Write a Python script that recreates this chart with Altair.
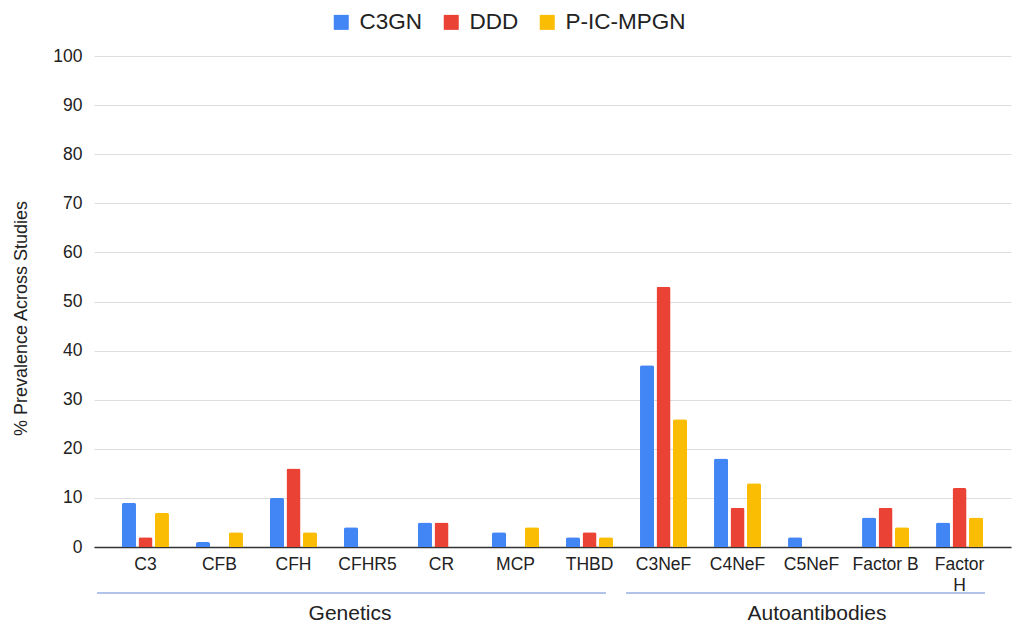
import altair as alt
import pandas as pd

categories = ["C3", "CFB", "CFH", "CFHR5", "CR", "MCP", "THBD",
              "C3NeF", "C4NeF", "C5NeF", "Factor B", "Factor H"]
series = ["C3GN", "DDD", "P-IC-MPGN"]
c3gn = [9, 1, 10, 4, 5, 3, 2, 37, 18, 2, 6, 5]
ddd = [2, 0, 16, 0, 5, 0, 3, 53, 8, 0, 8, 12]
picmpgn = [7, 3, 3, 0, 0, 4, 2, 26, 13, 0, 4, 6]
colors = ["#4285F4", "#EA4335", "#FBBC04"]
y_ticks = list(range(0, 101, 10))

# category groups (in category-index units)
group_names = ["Genetics", "Autoantibodies"]
group_start = [-0.655, 6.493]
group_end = [6.223, 11.345]
group_center = [2.764, 9.074]
index_domain = [-0.696, 11.696]

rows = []
for s, vals in zip(series, [c3gn, ddd, picmpgn]):
    for c, v in zip(categories, vals):
        rows.append({"category": c, "series": s, "value": v})
df = pd.DataFrame(rows)
groups = pd.DataFrame({"name": group_names, "start": group_start,
                       "end": group_end, "center": group_center})

FONT = "Liberation Sans"

bars = alt.Chart(df).mark_bar(cornerRadiusTopLeft=2, cornerRadiusTopRight=2).encode(
    x=alt.X("category:N", sort=categories,
            scale=alt.Scale(paddingInner=0.365, paddingOuter=0.378),
            axis=alt.Axis(title=None, labelAngle=0, ticks=False, grid=False,
                          domainColor="#333333", domainWidth=1.5,
                          labelFontSize=17.5, labelColor="#222222", labelPadding=8,
                          labelOverlap=False, labelLineHeight=21,
                          labelExpr="datum.value == 'Factor H' ? ['Factor', 'H'] : datum.value")),
    xOffset=alt.XOffset("series:N", sort=series, scale=alt.Scale(paddingInner=0.15)),
    y=alt.Y("value:Q", scale=alt.Scale(domain=[0, 100], nice=False),
            axis=alt.Axis(values=y_ticks, title="% Prevalence Across Studies",
                          titleFontSize=18, titleFontWeight="normal", titleColor="#222222",
                          titlePadding=22, titleY=262, labelFontSize=17.5, labelColor="#222222",
                          labelPadding=12, domain=False, ticks=False,
                          gridColor="#dddddd", gridWidth=1)),
    color=alt.Color("series:N", sort=series,
                    scale=alt.Scale(domain=series, range=colors),
                    legend=alt.Legend(orient="none", legendX=236, legendY=-45,
                                      direction="horizontal", columns=3, title=None,
                                      symbolType="square", symbolSize=225,
                                      symbolStrokeWidth=0, symbolOffset=0,
                                      labelFontSize=22.5, labelColor="#222222",
                                      labelOffset=7, columnPadding=17, padding=0)),
)

rules = alt.Chart(groups).mark_rule(color="#6688d8", strokeWidth=1.2).encode(
    x=alt.X("start:Q", scale=alt.Scale(domain=index_domain, nice=False, zero=False), axis=None),
    x2="end:Q",
    y=alt.value(537),
)

texts = alt.Chart(groups).mark_text(fontSize=21, color="#222222", baseline="middle",
                                    align="center").encode(
    x=alt.X("center:Q", scale=alt.Scale(domain=index_domain, nice=False, zero=False), axis=None),
    y=alt.value(558),
    text="name:N",
)

chart = alt.layer(bars, rules, texts).resolve_scale(x="independent").properties(
    width=917, height=491,
    padding={"left": 86, "top": 48, "right": 5, "bottom": 83},
    autosize=alt.AutoSizeParams(type="none"),
).configure(font=FONT).configure_view(stroke=None)

chart.save("out.html", embed_options={"renderer": "svg", "actions": False})
